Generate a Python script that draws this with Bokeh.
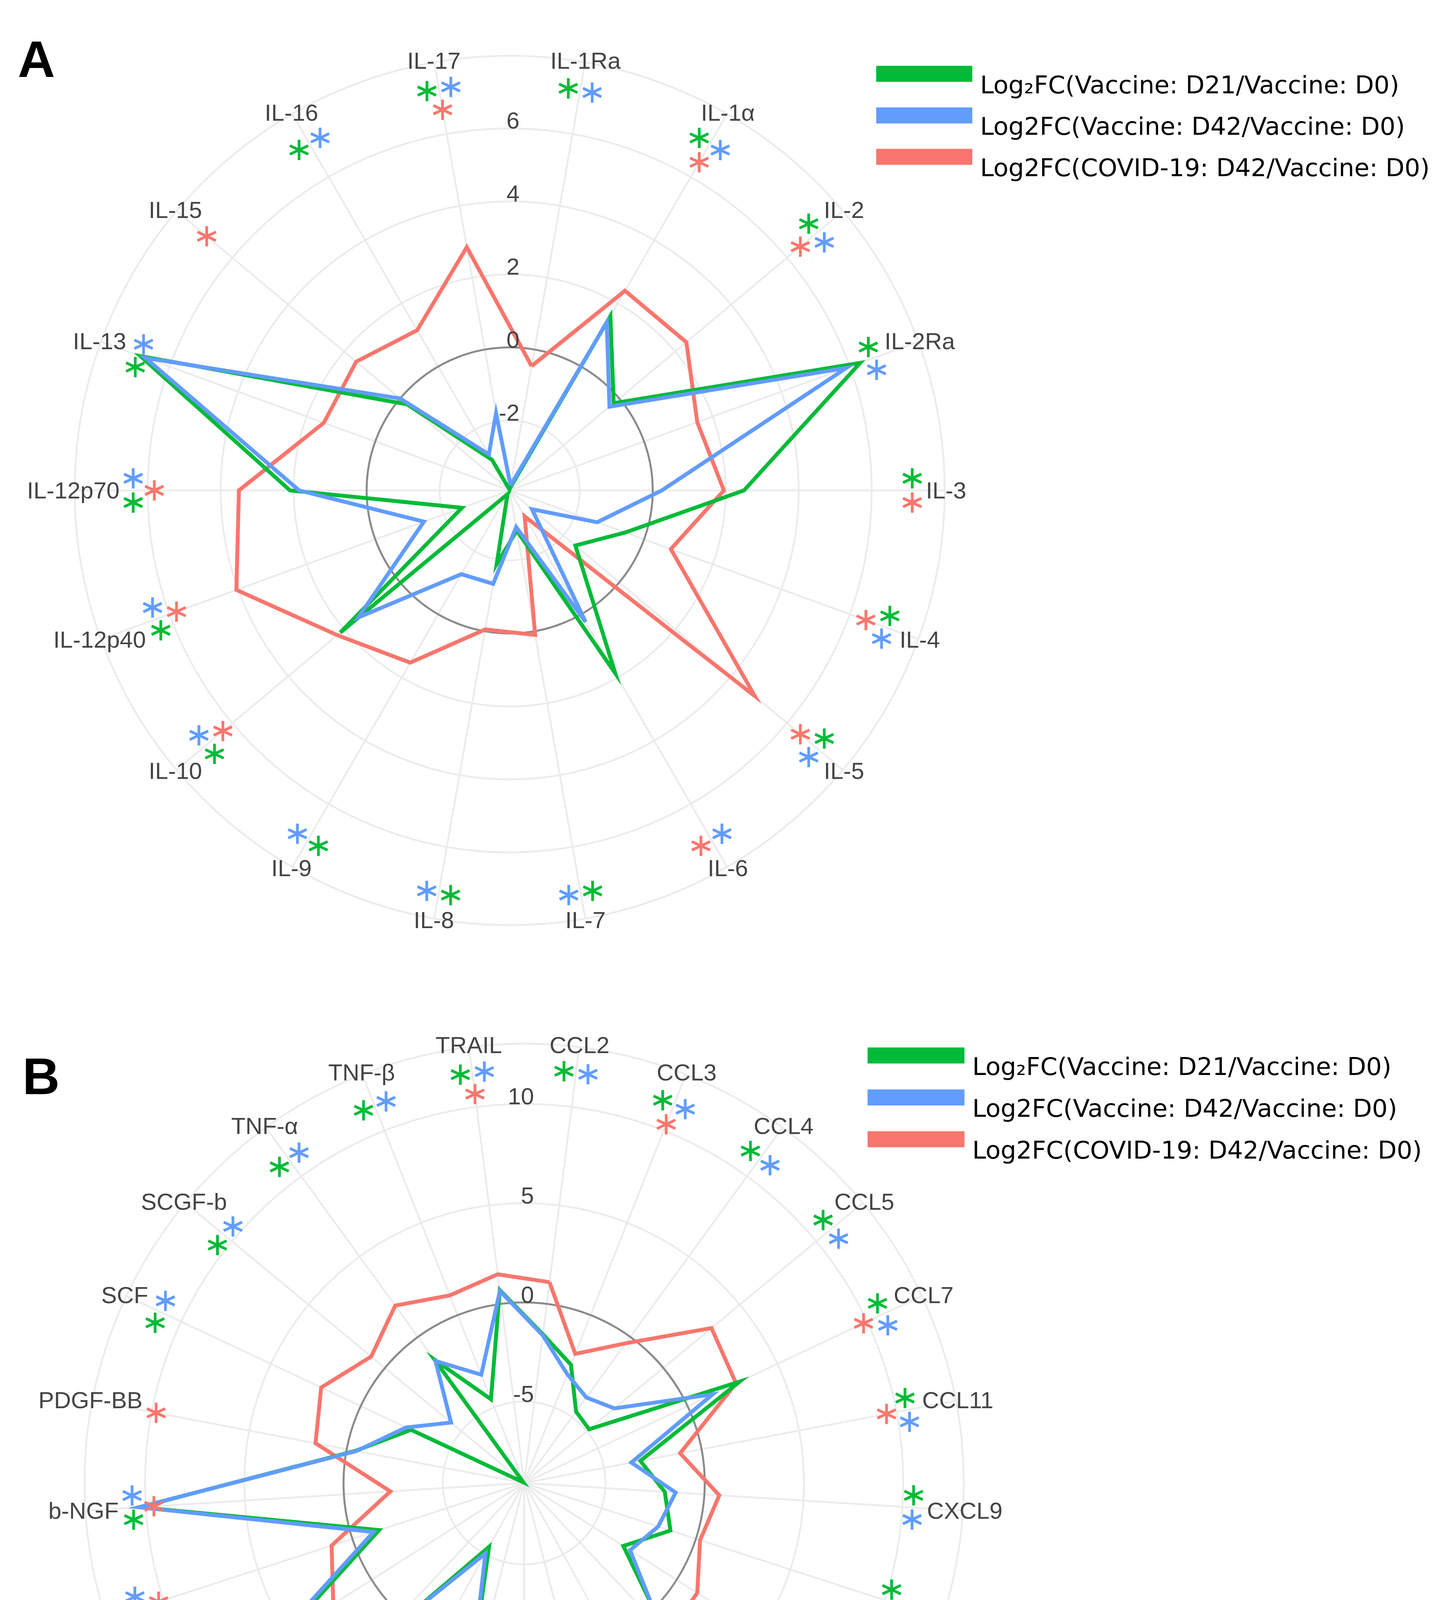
import numpy as np
from bokeh.plotting import figure
from bokeh.models import Range1d
from bokeh.embed import file_html
from bokeh.resources import INLINE
from bokeh.core.properties import value

# ---------------- Panel A data (interleukins) ----------------
cats_a = ["IL-1Ra", "IL-1α", "IL-2", "IL-2Ra", "IL-3", "IL-4", "IL-5", "IL-6", "IL-7",
          "IL-8", "IL-9", "IL-10", "IL-12p40", "IL-12p70", "IL-13", "IL-15", "IL-16", "IL-17"]
vac_d21_a = [-3.85, 1.6, -0.2, 6.3, 2.5, -0.55, -1.57, 1.87, -2.8, -1.87, -3.8, 2.14,
             -2.53, 2.1, 6.85, -0.25, -2.95, -3.9]
vac_d42_a = [-3.78, 1.4, -0.35, 5.9, 0.25, -1.37, -3.12, 0.24, -2.9, -1.32, -1.27, 1.5,
             -1.42, 1.85, 6.7, 0.0, -2.78, -1.77]
covid_a = [-0.46, 2.4, 2.4, 1.55, 1.95, 0.78, 4.85, -3.1, 0.1, -0.05, 1.53, 2.25,
           4.05, 3.5, 1.5, 1.57, 1.15, 2.85]
sig_d21_a = [1, 1, 1, 1, 1, 1, 1, 0, 1, 1, 1, 1, 1, 1, 1, 0, 1, 1]
sig_d42_a = [1, 1, 1, 1, 0, 1, 1, 1, 1, 1, 1, 1, 1, 1, 1, 0, 1, 1]
sig_covid_a = [0, 1, 1, 0, 1, 1, 1, 1, 0, 0, 0, 1, 1, 1, 0, 1, 0, 1]
ticks_a = [-2, 0, 2, 4, 6]
range_a = (-3.92, 8.0)

# ---------------- Panel B data (chemokines / growth factors) ----------------
cats_b = ["CCL2", "CCL3", "CCL4", "CCL5", "CCL7", "CCL11", "CXCL9", "CXCL10", "CXCL12",
          "IFN-α2", "IFN-γ", "bFGF", "G-CSF", "GM-CSF", "HGF", "LIF", "M-CSF", "MIF",
          "b-NGF", "PDGF-BB", "SCF", "SCGF-b", "TNF-α", "TNF-β", "TRAIL"]
vac_d21_b = [-1.55, -2.69, -4.65, -4.85, 2.9, -3.14, -2.0, -1.35, -3.18, 1.3, -0.55, 0.77,
             0.1, 2.5, -5.43, 2.6, 5.3, -1.42, 10.3, -0.45, -2.8, -9.05, -1.42, -4.56, 0.7]
vac_d42_b = [-1.6, -3.2, -3.77, -3.2, 1.4, -3.6, -1.45, -2.0, -2.78, 1.03, -0.55, 0.32,
             0.15, 2.12, -5.05, 2.0, 5.8, -1.12, 10.35, -0.5, -2.53, -4.32, -1.5, -3.23, 0.65]
covid_b = [1.1, -2.1, -0.4, 3.15, 2.7, -1.1, 0.75, 0.22, 1.23, 1.45, 1.37, 1.48,
           3.1, 1.0, -1.72, 3.92, 2.29, 1.1, -2.35, 1.6, 2.2, 0.9, 1.95, 1.07, 1.5]
sig_d21_b = [1, 1, 1, 1, 1, 1, 1, 1, 1, 1, 1, 1, 0, 1, 1, 1, 1, 1, 1, 0, 1, 1, 1, 1, 1]
sig_d42_b = [1, 1, 1, 1, 1, 1, 1, 1, 1, 1, 1, 0, 0, 1, 1, 1, 1, 1, 1, 0, 1, 1, 1, 1, 1]
sig_covid_b = [0, 1, 0, 0, 1, 1, 0, 0, 0, 1, 0, 1, 1, 0, 1, 1, 0, 1, 1, 1, 0, 0, 0, 0, 1]
ticks_b = [-5, 0, 5, 10]
range_b = (-9.1, 13.05)

series_names = ["Log₂FC(Vaccine: D21/Vaccine: D0)",
                "Log2FC(Vaccine: D42/Vaccine: D0)",
                "Log2FC(COVID-19: D42/Vaccine: D0)"]
colors = ["#00BA38", "#619CFF", "#F8766D"]

# ---------------- styling / layout ----------------
LABEL_FONT = "Liberation Sans"
W, H = 3708, 5006
ARIAL_W = {'I': 278, 'L': 556, '-': 333, 'R': 722, 'a': 556, 'α': 578, 'p': 556, 'C': 722,
           'X': 667, 'F': 611, 'N': 722, 'G': 778, 'b': 556, 'B': 667, 'P': 667, 'D': 722,
           'M': 833, 'S': 667, 'H': 722, 'T': 611, 'A': 667, 'E': 667, 'γ': 500, 'β': 575,
           'K': 667}


def half_width(s, fs):
    return sum(ARIAL_W.get(ch, 556) for ch in s) / 1000.0 * fs / 2.0


p = figure(width=W, height=H, x_range=Range1d(0, W), y_range=Range1d(H, 0),
           output_backend="svg", toolbar_location=None, min_border=0)
p.axis.visible = False
p.xgrid.visible = False
p.ygrid.visible = False
p.outline_line_color = None
p.background_fill_color = "white"
p.border_fill_color = "white"


def panel(cats, vals, sigs, rng, ticks, unit, center, r_lab, letter, letter_pos,
          bar_x, bar_centers, text_x):
    # all positions below are page pixels (8px page margin removed)
    cx, cy = center[0] - 8, center[1] - 8
    rmin, rmax = rng
    n = len(cats)
    ang = np.deg2rad(90 - 180.0 / n - 360.0 / n * np.arange(n))
    cs, sn = np.cos(ang), np.sin(ang)
    R = (rmax - rmin) * unit

    def pol(rpx, c, s):
        return cx + rpx * c, cy - rpx * s

    # grid rings + spokes
    ring_r = [(t - rmin) * unit for t in ticks] + [R]
    p.circle(x=[cx] * len(ring_r), y=[cy] * len(ring_r), radius=ring_r,
             fill_color=None, line_color="#ebebeb", line_width=4.5)
    ex, ey = pol(R, cs, sn)
    p.segment(x0=np.full(n, cx), y0=np.full(n, cy), x1=ex, y1=ey,
              line_color="#ebebeb", line_width=4.5)
    p.circle(x=[cx], y=[cy], radius=[(0 - rmin) * unit], fill_color=None,
             line_color="#8a8a8a", line_width=5)

    # data polygons (closed)
    for k in (2, 0, 1):
        rr = (np.asarray(vals[k], dtype=float) - rmin) * unit
        xs, ys = pol(rr, cs, sn)
        p.line(np.append(xs, xs[0]), np.append(ys, ys[0]), line_color=colors[k],
               line_width=10, line_join="miter")

    # radial tick labels
    p.text(x=[cx + 25] * len(ticks), y=[cy - (t - rmin) * unit - 20 for t in ticks],
           text=[str(t) for t in ticks], text_align="right", text_baseline="alphabetic",
           text_font=value(LABEL_FONT), text_font_size="60px", text_color="#444444")

    # category labels
    lx, ly = pol(r_lab, cs, sn)
    p.text(x=lx, y=ly, text=cats, text_align="center", text_baseline="middle",
           text_font=value(LABEL_FONT), text_font_size="60px", text_color="#444444")

    # significance asterisks (six-armed stars)
    GAP, HH, DT, DI, ARM, DIAG = 35.0, 27.0, 31.0, 54.0, 26.0, np.deg2rad(25)
    seg = {k: ([], [], [], []) for k in range(3)}
    for i in range(n):
        present = [k for k in range(3) if sigs[k][i]]
        if not present:
            continue
        ext = half_width(cats[i], 60) * abs(cs[i]) + HH * abs(sn[i])
        rp = r_lab - ext - GAP
        if len(present) == 1:
            slots = [(rp, 0.0)]
        elif len(present) == 2:
            slots = [(rp, DT), (rp, -DT)]
        else:
            slots = [(rp, DT), (rp, -DT), (rp - DI, 0.0)]
        for k, (rr, tt) in zip(present, slots):
            px = cx + rr * cs[i] - tt * sn[i]
            py = cy - (rr * sn[i] + tt * cs[i])
            for a in (np.pi / 2, DIAG, -DIAG):
                dx, dy = ARM * np.cos(a), ARM * np.sin(a)
                seg[k][0].append(px - dx)
                seg[k][1].append(py + dy)
                seg[k][2].append(px + dx)
                seg[k][3].append(py - dy)
    for k in range(3):
        x0, y0, x1, y1 = seg[k]
        p.segment(x0=x0, y0=y0, x1=x1, y1=y1, line_color=colors[k], line_width=7,
                  line_cap="butt")

    # legend
    bx0, bx1 = bar_x[0] - 8, bar_x[1] - 8
    for k in range(3):
        yc = bar_centers[k] - 8
        p.rect(x=[(bx0 + bx1) / 2], y=[yc], width=bx1 - bx0, height=41,
               fill_color=colors[k], line_color=None)
        p.text(x=[text_x - 8], y=[yc + 28], text=[series_names[k]], text_align="left",
               text_baseline="alphabetic", text_font=value("DejaVu Sans"),
               text_font_size="63px", text_color="#000000")

    # panel letter
    p.text(x=[letter_pos[0] - 8], y=[letter_pos[1] - 8], text=[letter], text_align="left",
           text_baseline="alphabetic", text_font=value(LABEL_FONT),
           text_font_style="bold", text_font_size="132px", text_color="#000000")


panel(cats_a, [vac_d21_a, vac_d42_a, covid_a], [sig_d21_a, sig_d42_a, sig_covid_a],
      range_a, ticks_a, 93.4, (1312, 1263), 1117, "A", (53, 159),
      (2250, 2496), [196.5, 303, 409], 2516)
panel(cats_b, [vac_d21_b, vac_d42_b, covid_b], [sig_d21_b, sig_d42_b, sig_covid_b],
      range_b, ticks_b, 50.8, (1349, 3804), 1130, "B", (65, 2763),
      (2228, 2476), [2709.5, 2817, 2924], 2496)

open("out.html", "w").write(file_html(p, INLINE))
